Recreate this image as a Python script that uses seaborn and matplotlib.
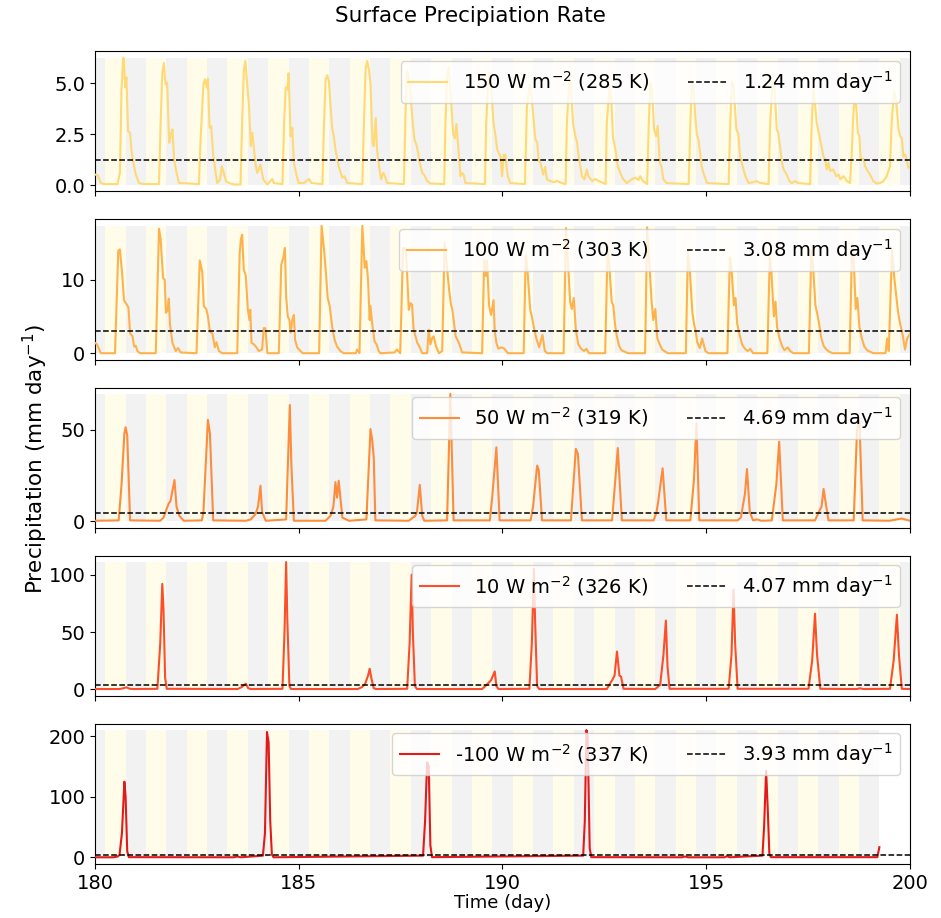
import numpy as np
import pandas as pd
import matplotlib
matplotlib.use("Agg")
import matplotlib.pyplot as plt
import seaborn as sns

# ---------------- data ----------------
labels = ["150 W m$^{-2}$ (285 K)", "100 W m$^{-2}$ (303 K)", "50 W m$^{-2}$ (319 K)",
          "10 W m$^{-2}$ (326 K)", "-100 W m$^{-2}$ (337 K)"]
means = [1.24, 3.08, 4.69, 4.07, 3.93]
colors = ["#fed976", "#feb24c", "#fd8d3c", "#fc4e2a", "#e31a1c"]

t_150 = [180.00, 180.07, 180.14, 180.22, 180.55, 180.61, 180.65, 180.69, 180.71, 180.74, 180.77, 180.81, 180.86, 180.89, 180.94, 181.00, 181.08, 181.20, 181.57,
         181.61, 181.65, 181.69, 181.73, 181.77, 181.82, 181.86, 181.90, 181.94, 182.00, 182.06, 182.55,
         182.59, 182.66, 182.70, 182.74, 182.77, 182.81, 182.85, 182.90, 182.96, 183.00, 183.07, 183.11, 183.15, 183.21, 183.29, 183.41, 183.57,
         183.61, 183.65, 183.69, 183.74, 183.78, 183.82, 183.86, 183.90, 183.94, 183.98, 184.06, 184.13, 184.23, 184.35, 184.39, 184.60,
         184.64, 184.68, 184.72, 184.75, 184.80, 184.84, 184.88, 184.95, 185.00, 185.13, 185.19, 185.25, 185.31, 185.58,
         185.62, 185.66, 185.70, 185.74, 185.78, 185.82, 185.86, 185.90, 185.98, 186.07, 186.12, 186.19, 186.56,
         186.60, 186.64, 186.68, 186.72, 186.76, 186.81, 186.84, 186.89, 186.92, 186.97, 187.02, 187.07, 187.10, 187.17, 187.58,
         187.62, 187.66, 187.69, 187.74, 187.80, 187.84, 187.90, 187.97, 188.03, 188.08, 188.15, 188.23, 188.57,
         188.60, 188.64, 188.68, 188.72, 188.79, 188.83, 188.87, 188.90, 188.94, 188.97, 189.01, 189.05, 189.09, 189.57,
         189.60, 189.66, 189.70, 189.74, 189.78, 189.83, 189.87, 189.95, 189.99, 190.03, 190.07, 190.10, 190.13, 190.19, 190.55,
         190.60, 190.67, 190.72, 190.77, 190.81, 190.85, 190.89, 190.93, 191.00, 191.05, 191.09, 191.17, 191.26, 191.34, 191.46, 191.55,
         191.58, 191.64, 191.68, 191.73, 191.79, 191.83, 191.87, 191.91, 191.95, 192.01, 192.07, 192.11, 192.20, 192.28, 192.36, 192.48, 192.53,
         192.56, 192.63, 192.67, 192.71, 192.77, 192.83, 192.89, 192.96, 193.05, 193.18, 193.26, 193.34, 193.38, 193.45, 193.55,
         193.59, 193.63, 193.67, 193.72, 193.77, 193.81, 193.86, 193.90, 193.95, 194.03, 194.57,
         194.61, 194.65, 194.69, 194.73, 194.77, 194.81, 194.85, 194.89, 194.93, 195.02, 195.55,
         195.59, 195.63, 195.67, 195.74, 195.79, 195.83, 195.87, 195.96, 196.04, 196.16, 196.24, 196.32, 196.53,
         196.57, 196.63, 196.68, 196.73, 196.77, 196.81, 196.86, 196.90, 196.98, 197.04, 197.10, 197.18, 197.26, 197.55,
         197.59, 197.63, 197.67, 197.71, 197.78, 197.83, 197.88, 197.92, 197.96, 198.00, 198.04, 198.12, 198.19, 198.25, 198.29, 198.37, 198.45, 198.53,
         198.57, 198.60, 198.63, 198.68, 198.72, 198.76, 198.79, 198.86, 198.90, 198.94, 199.02, 199.10, 199.18, 199.27, 199.35, 199.43, 199.51,
         199.55, 199.61, 199.66, 199.72, 199.76, 199.80, 199.84, 199.88, 199.92, 199.96, 200.00]
p_150 = [0.52, 0.48, 0.11, 0.05, 0.05, 0.60, 4.70, 6.26, 6.20, 4.80, 5.30, 2.65, 2.57, 1.76, 1.10, 0.52, 0.10, 0.05, 0.05,
         3.06, 5.50, 6.00, 4.95, 5.03, 2.08, 2.50, 2.74, 1.26, 0.61, 0.11, 0.05,
         2.24, 4.95, 5.20, 4.80, 5.23, 2.82, 2.90, 1.50, 0.61, 0.10, 0.28, 0.93, 0.69, 0.20, 0.10, 0.03, 0.03,
         3.06, 5.60, 6.10, 4.80, 3.88, 1.92, 2.57, 1.76, 1.00, 0.60, 1.00, 0.28, 0.03, 0.30, 0.10, 0.05,
         3.06, 4.80, 4.70, 5.50, 2.40, 2.82, 1.10, 0.44, 0.10, 0.10, 0.20, 0.30, 0.10, 0.05,
         3.06, 5.20, 5.40, 5.10, 3.88, 2.82, 2.40, 1.76, 0.93, 0.36, 0.44, 0.10, 0.05,
         3.06, 5.70, 6.10, 5.70, 5.03, 2.08, 1.92, 3.30, 1.76, 0.93, 0.28, 0.60, 0.52, 0.10, 0.05,
         3.50, 5.60, 5.50, 4.50, 3.00, 2.24, 1.90, 1.10, 0.60, 0.50, 0.20, 0.08, 0.05,
         3.06, 5.40, 5.80, 4.70, 2.50, 2.30, 3.00, 2.24, 1.26, 0.44, 0.60, 0.50, 0.10, 0.05,
         3.06, 5.50, 5.40, 4.20, 3.06, 2.40, 1.76, 1.40, 0.44, 1.50, 1.50, 0.90, 0.44, 0.10, 0.05,
         3.88, 4.95, 4.20, 3.06, 2.24, 2.10, 1.20, 1.10, 0.52, 0.90, 0.28, 0.20, 0.15, 0.20, 0.10, 0.05,
         3.06, 5.20, 5.00, 3.06, 2.40, 2.10, 1.40, 0.93, 0.44, 0.28, 0.77, 0.44, 0.20, 0.30, 0.20, 0.10, 0.05,
         3.06, 4.90, 4.20, 2.40, 1.76, 0.93, 0.60, 0.30, 0.10, 0.30, 0.36, 0.25, 0.44, 0.20, 0.05,
         3.06, 5.00, 4.70, 2.74, 2.40, 2.90, 1.10, 0.93, 0.28, 0.10, 0.05,
         3.06, 5.00, 4.80, 3.40, 2.50, 2.24, 1.60, 0.93, 0.60, 0.10, 0.05,
         3.06, 5.10, 4.90, 2.74, 2.50, 1.40, 1.10, 0.44, 0.10, 0.15, 0.20, 0.10, 0.05,
         3.06, 5.10, 4.70, 2.74, 2.57, 1.92, 1.10, 0.77, 0.50, 0.20, 0.10, 0.20, 0.10, 0.05,
         3.06, 4.80, 4.00, 3.06, 2.40, 1.90, 1.40, 1.26, 0.77, 1.10, 0.70, 0.77, 0.44, 0.52, 0.28, 0.44, 0.20, 0.10,
         1.50, 3.06, 4.00, 4.00, 2.57, 2.40, 1.26, 1.30, 0.93, 0.77, 0.52, 0.20, 0.08, 0.10, 0.20, 0.44, 0.93,
         3.06, 4.60, 4.20, 2.74, 2.40, 2.30, 1.40, 1.50, 1.26, 0.85, 0.90]

t_100 = [180.00, 180.05, 180.14, 180.49, 180.57, 180.61, 180.67, 180.71, 180.78, 180.82, 180.86, 180.92, 180.96, 181.00, 181.04, 181.10, 181.49,
         181.57, 181.61, 181.67, 181.71, 181.74, 181.78, 181.81, 181.84, 181.90, 181.98, 182.04, 182.10, 182.49,
         182.57, 182.63, 182.67, 182.73, 182.77, 182.82, 182.88, 182.94, 182.98, 183.04, 183.12, 183.49,
         183.55, 183.58, 183.61, 183.65, 183.70, 183.75, 183.79, 183.81, 183.84, 183.90, 183.96, 184.02, 184.10, 184.14, 184.18, 184.23, 184.51,
         184.57, 184.62, 184.66, 184.69, 184.73, 184.77, 184.80, 184.84, 184.88, 184.91, 184.96, 185.04, 185.10, 185.50,
         185.56, 185.62, 185.66, 185.71, 185.76, 185.82, 185.88, 185.94, 186.02, 186.10, 186.40, 186.43, 186.49,
         186.56, 186.60, 186.62, 186.66, 186.70, 186.74, 186.76, 186.80, 186.86, 186.91, 186.96, 187.00, 187.35, 187.41, 187.49,
         187.56, 187.63, 187.70, 187.74, 187.78, 187.82, 187.91, 187.96, 188.03, 188.15, 188.19, 188.23, 188.27, 188.31, 188.37, 188.44, 188.52,
         188.58, 188.62, 188.69, 188.73, 188.77, 188.81, 188.85, 188.93, 189.01, 189.50,
         189.55, 189.59, 189.62, 189.67, 189.72, 189.78, 189.81, 189.85, 189.90, 189.97, 190.05, 190.13, 190.52,
         190.57, 190.61, 190.68, 190.72, 190.77, 190.83, 190.90, 190.98, 191.04, 191.10, 191.50,
         191.56, 191.60, 191.66, 191.70, 191.75, 191.80, 191.86, 191.93, 192.00, 192.06, 192.12, 192.52,
         192.58, 192.62, 192.68, 192.72, 192.76, 192.80, 192.86, 192.92, 193.00, 193.08, 193.50,
         193.55, 193.60, 193.66, 193.70, 193.75, 193.80, 193.86, 193.92, 194.00, 194.06, 194.50,
         194.55, 194.60, 194.66, 194.70, 194.74, 194.78, 194.84, 194.90, 194.98, 195.05, 195.52,
         195.58, 195.62, 195.68, 195.72, 195.76, 195.82, 195.88, 195.95, 196.02, 196.08, 196.15, 196.50,
         196.56, 196.60, 196.66, 196.70, 196.74, 196.80, 196.86, 196.92, 197.00, 197.06, 197.14, 197.52,
         197.58, 197.62, 197.68, 197.72, 197.77, 197.82, 197.88, 197.95, 198.02, 198.10, 198.52,
         198.58, 198.62, 198.67, 198.71, 198.76, 198.82, 198.88, 198.95, 199.02, 199.10, 199.40, 199.44, 199.48,
         199.56, 199.62, 199.67, 199.71, 199.76, 199.82, 199.88, 199.93, 200.00]
p_100 = [1.4, 1.2, 0.0, 0.0, 13.9, 14.1, 10.5, 7.2, 6.6, 6.2, 2.7, 2.3, 0.9, 1.0, 0.3, 0.0, 0.0,
         16.9, 15.5, 10.2, 10.0, 5.5, 5.8, 7.4, 3.9, 1.4, 0.3, 0.7, 0.1, 0.0,
         12.6, 11.1, 6.4, 6.0, 5.0, 2.9, 2.7, 0.8, 1.5, 0.3, 0.0, 0.0,
         13.6, 15.5, 16.1, 11.4, 10.5, 5.9, 4.5, 5.9, 1.4, 1.2, 0.8, 0.3, 0.5, 3.4, 3.4, 0.0, 0.0,
         12.0, 13.0, 14.3, 7.7, 5.0, 4.5, 2.8, 4.5, 5.2, 1.8, 0.8, 0.3, 0.0, 0.0,
         17.3, 14.1, 11.4, 7.5, 6.4, 3.6, 1.8, 0.9, 0.3, 0.0, 0.0, 0.5, 0.0,
         17.3, 13.6, 11.6, 12.5, 10.0, 4.5, 6.4, 4.1, 1.6, 1.2, 0.3, 0.0, 0.1, 0.5, 0.0,
         14.3, 14.2, 5.9, 6.8, 6.6, 3.2, 1.4, 0.9, 0.0, 0.0, 3.2, 1.2, 2.0, 2.3, 0.9, 0.0, 0.3,
         15.0, 12.7, 8.6, 6.8, 5.9, 4.1, 2.3, 1.4, 0.1, 0.0,
         12.6, 10.5, 12.6, 6.5, 5.2, 7.2, 3.0, 1.4, 0.6, 0.8, 0.6, 0.0, 0.0,
         13.3, 11.5, 5.9, 5.0, 3.5, 2.0, 0.8, 2.5, 0.3, 0.0, 0.0,
         17.0, 13.0, 7.0, 6.0, 7.5, 3.2, 1.2, 0.6, 0.3, 0.6, 0.0, 0.0,
         14.5, 12.0, 7.0, 6.5, 4.0, 2.5, 1.0, 0.4, 0.2, 0.0, 0.0,
         17.1, 12.5, 7.0, 4.5, 6.0, 2.0, 1.2, 0.5, 0.2, 0.0, 0.0,
         13.8, 11.0, 5.5, 4.0, 3.0, 1.5, 0.7, 2.0, 0.3, 0.0, 0.0,
         13.0, 11.5, 6.5, 7.5, 4.0, 2.5, 1.2, 0.6, 0.3, 0.6, 0.0, 0.0,
         13.0, 11.0, 5.0, 7.0, 3.5, 2.0, 1.0, 0.4, 0.8, 0.3, 0.0, 0.0,
         14.0, 12.0, 6.5, 5.5, 4.0, 2.2, 1.0, 0.5, 0.2, 0.0, 0.0,
         14.8, 12.5, 6.0, 7.5, 3.5, 2.0, 0.9, 0.4, 0.2, 0.0, 0.0, 2.0, 0.3,
         14.0, 10.0, 7.5, 5.5, 4.0, 2.5, 0.5, 2.0, 2.6]

t_50 = [180.00, 180.58, 180.65, 180.72, 180.75, 180.79, 180.86, 181.60, 181.68, 181.76, 181.81, 181.85, 181.95, 182.00, 182.07, 182.18,
        182.62, 182.66, 182.77, 182.82, 182.90, 183.70, 183.82, 183.94, 184.00, 184.06, 184.10, 184.19, 184.69, 184.78, 184.82, 184.88,
        185.66, 185.78, 185.85, 185.90, 185.94, 185.98, 186.07, 186.23, 186.66, 186.76, 186.80, 186.84, 186.88,
        187.70, 187.86, 187.90, 187.97, 188.03, 188.08, 188.64, 188.72, 188.80, 189.69, 189.75, 189.85, 189.93,
        190.69, 190.75, 190.85, 190.89, 190.97, 191.68, 191.80, 191.85, 191.95, 192.69, 192.83, 192.93,
        193.71, 193.78, 193.82, 193.93, 194.02, 194.61, 194.70, 194.76, 194.83, 195.77, 195.85, 195.95, 196.00, 196.07, 196.15, 196.25, 196.35,
        196.61, 196.72, 196.79, 196.88, 197.67, 197.78, 197.83, 197.88, 198.00, 198.62, 198.70, 198.76, 198.84,
        199.50, 199.80, 199.96, 200.00]
p_50 = [0.3, 0.5, 20.0, 48.0, 51.5, 47.0, 0.5, 0.3, 2.0, 7.0, 9.8, 11.0, 22.6, 8.0, 3.0, 0.3,
        0.5, 5.0, 55.5, 48.0, 0.5, 0.3, 1.0, 4.0, 8.0, 19.5, 5.0, 0.3, 1.0, 63.7, 30.0, 0.3,
        0.3, 3.0, 8.0, 21.4, 13.0, 22.2, 2.0, 0.3, 1.0, 50.5, 45.0, 35.0, 0.5,
        0.3, 3.0, 5.0, 19.9, 3.0, 0.3, 0.5, 69.7, 0.5, 0.5, 14.0, 40.5, 0.5,
        0.5, 8.0, 30.5, 28.0, 0.5, 0.5, 39.6, 37.0, 0.5, 0.5, 40.1, 0.5,
        0.5, 5.0, 10.6, 29.0, 0.5, 0.5, 23.0, 53.8, 0.5, 0.5, 2.0, 15.0, 28.6, 5.0, 0.5, 1.0, 0.3,
        0.5, 20.0, 43.6, 0.5, 0.5, 5.8, 8.0, 17.7, 0.5, 0.5, 49.6, 55.0, 0.5,
        0.3, 1.5, 0.5, 0.3]

t_10 = [180.00, 180.60, 180.70, 180.77, 180.85, 180.95, 181.53, 181.60, 181.65, 181.68, 181.72, 181.76,
        183.50, 183.60, 183.67, 183.70, 183.76, 183.82, 184.60, 184.65, 184.69, 184.72, 184.77, 184.81,
        186.45, 186.55, 186.63, 186.70, 186.74, 186.78, 186.84, 186.90, 187.66, 187.72, 187.77, 187.80, 187.85, 187.90,
        189.50, 189.64, 189.72, 189.81, 189.85, 189.90, 190.66, 190.72, 190.77, 190.80, 190.85, 190.90,
        192.56, 192.69, 192.75, 192.81, 192.87, 192.91, 192.97, 193.75, 193.87, 193.95, 194.01, 194.05, 194.10,
        195.55, 195.62, 195.67, 195.71, 195.77, 197.51, 197.60, 197.67, 197.72, 197.80,
        198.70, 198.77, 198.85, 199.51, 199.60, 199.68, 199.73, 199.80, 200.00]
p_10 = [0.3, 0.3, 1.0, 1.8, 0.5, 0.3, 0.5, 40.0, 92.0, 70.0, 10.0, 0.5,
        0.3, 2.0, 4.0, 5.0, 1.0, 0.3, 0.5, 50.0, 111.0, 60.0, 3.0, 0.3,
        0.3, 2.0, 5.0, 12.0, 18.0, 10.0, 1.0, 0.3, 0.5, 40.0, 100.0, 50.0, 3.0, 0.3,
        0.3, 5.0, 8.0, 15.6, 3.0, 0.3, 0.5, 40.0, 105.0, 60.0, 3.0, 0.3,
        0.3, 8.0, 12.0, 33.0, 12.0, 11.0, 0.5, 0.3, 4.0, 30.0, 60.0, 20.0, 0.5,
        0.5, 30.0, 87.0, 40.0, 0.5, 0.5, 25.0, 66.0, 30.0, 0.5,
        0.3, 1.0, 0.3, 0.5, 25.0, 65.0, 30.0, 0.5, 0.3]

t_m100 = [180.00, 180.45, 180.55, 180.60, 180.66, 180.72, 180.75, 180.79, 180.83, 183.40, 183.49, 183.58,
          184.12, 184.17, 184.22, 184.26, 184.30, 184.34, 184.38, 188.05, 188.10, 188.15, 188.19, 188.23, 188.27,
          191.98, 192.02, 192.06, 192.09, 192.14, 192.18, 194.40, 194.48, 194.56, 195.45, 195.51, 195.58,
          196.38, 196.42, 196.47, 196.51, 196.55, 196.59, 199.20, 199.25]
p_m100 = [0.3, 0.3, 1.5, 4.0, 40.0, 125.0, 100.0, 10.0, 0.5, 0.3, 1.5, 0.3,
          3.0, 40.0, 207.0, 190.0, 60.0, 5.0, 0.3, 3.0, 60.0, 157.0, 150.0, 20.0, 0.5,
          3.0, 60.0, 210.0, 200.0, 15.0, 0.5, 0.3, 1.5, 0.3, 0.3, 2.0, 0.3,
          3.0, 50.0, 143.0, 80.0, 5.0, 0.5, 0.5, 17.0]

series_t = [t_150, t_100, t_50, t_10, t_m100]
series_p = [p_150, p_100, p_50, p_10, p_m100]

# ---------------- figure ----------------
plt.rcParams["font.family"] = ["DejaVu Sans"]
fig, axes = plt.subplots(5, 1, figsize=(9.41, 9.18), dpi=100, sharex=True)
fig.subplots_adjust(left=0.101, right=0.967, top=0.944, bottom=0.059, hspace=0.2)

for ax, t, p, lab, m, col in zip(axes, series_t, series_p, labels, means, colors):
    df = pd.DataFrame({"time": t, "precip": p})
    tmin, tmax = min(t), max(t)
    top = max(p)
    # day / night background bands
    for d in range(180, 201):
        a, b = max(d - 0.25, tmin), min(d + 0.25, tmax)
        if b > a:
            ax.fill_between([a, b], 0, top, color="#f2f2f2", lw=0, zorder=0)
        a, b = max(d + 0.25, tmin), min(d + 0.75, tmax)
        if b > a:
            ax.fill_between([a, b], 0, top, color="#fffde9", lw=0, zorder=0)
    sns.lineplot(data=df, x="time", y="precip", ax=ax, color=col, lw=1.5,
                 label=lab, zorder=3)
    ax.axhline(m, color="black", ls="--", lw=1.1, label=f"{m:.2f} mm day$^{{-1}}$", zorder=4)
    ax.set_xlim(180, 200)
    ax.set_xlabel("")
    ax.set_ylabel("")
    ax.tick_params(labelsize=14)
    ax.legend(loc="upper right", ncol=2, fontsize=14, framealpha=0.8)

axes[-1].set_xticks([180, 185, 190, 195, 200])
axes[-1].set_xlabel("Time (day)", fontsize=13, labelpad=1)
fig.supylabel("Precipitation (mm day$^{-1}$)", fontsize=15.5, x=0.022)
fig.suptitle("Surface Precipiation Rate", fontsize=15.5, y=0.993)

fig.savefig("out.png", dpi=100)
